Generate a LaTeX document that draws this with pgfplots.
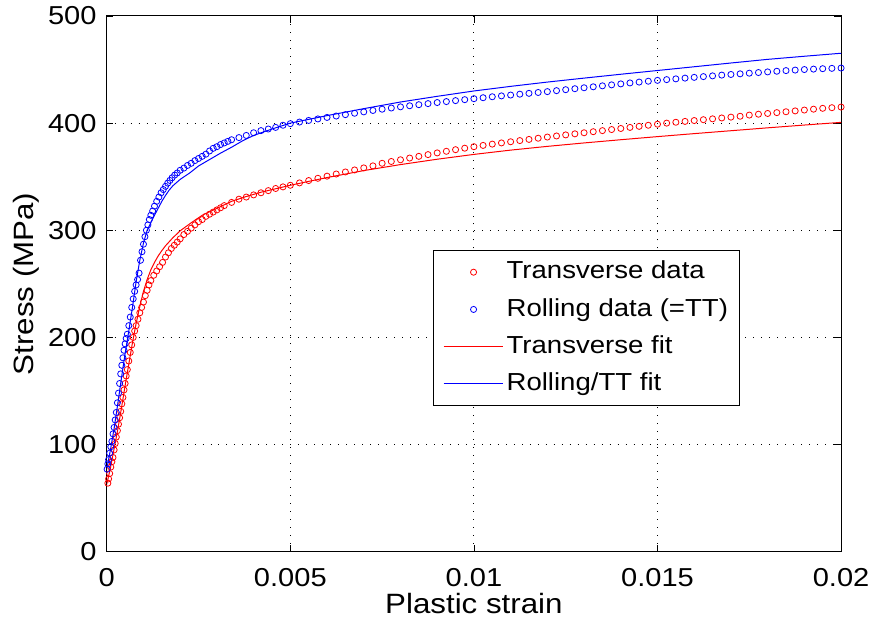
\documentclass[border=0pt]{standalone}
\usepackage{fontspec}
\setmainfont{Liberation Sans}[FakeStretch=1.12]
\usepackage{pgfplots}
\pgfplotsset{compat=1.18}
\usetikzlibrary{calc}

% measured data, transverse direction
\pgfplotstableread{
x y
0.00003 64
0.00005 68
0.00008 73
0.00011 79
0.00014 84
0.00017 88
0.0002 95
0.00023 101
0.00026 107
0.00029 113
0.00032 119
0.00035 125
0.00038 131
0.00041 138
0.00044 144
0.00047 151
0.0005 157
0.00053 164
0.00056 170
0.0006 178
0.00064 186
0.00068 193
0.00072 200
0.00076 206
0.0008 211
0.00085 217
0.0009 223
0.00095 228
0.001 233
0.00105 239
0.0011 244
0.00115 249
0.0012 253
0.00128 258
0.00136 262
0.00144 266
0.00152 270
0.0016 275
0.00168 279
0.00176 283
0.00184 286
0.00192 289
0.002 292
0.0021 296
0.0022 299
0.0023 302
0.0024 305
0.0025 308
0.0026 310
0.0027 313
0.0028 315
0.0029 317
0.003 319
0.0031 321
0.0032 323
0.0034 326
0.0036 329
0.0038 331
0.004 333
0.0042 335
0.0044 337
0.0046 339
0.0048 340.5
0.005 342
0.00525 344.2
0.0055 346.4
0.00575 348.5
0.006 350.5
0.00625 352.5
0.0065 354.4
0.00675 356.3
0.007 358.2
0.00725 360.1
0.0075 362.5
0.00775 364.2
0.008 365.8
0.00825 367.4
0.0085 369
0.00875 370.6
0.009 372.2
0.00925 373.7
0.0095 375.2
0.00975 376.6
0.01 378
0.01025 379.2
0.0105 380.4
0.01075 381.5
0.011 382.6
0.01125 383.7
0.0115 384.8
0.01175 385.9
0.012 387
0.01225 388
0.0125 389
0.01275 390
0.013 391
0.01325 392
0.0135 393
0.01375 394
0.014 395
0.01425 396
0.0145 397
0.01475 398
0.015 399
0.01525 400
0.0155 400.8
0.01575 401.6
0.016 402.4
0.01625 403.2
0.0165 404
0.01675 404.8
0.017 405.6
0.01725 406.4
0.0175 407.5
0.01775 408.3
0.018 409
0.01825 409.8
0.0185 410.6
0.01875 411.4
0.019 412.2
0.01925 413
0.0195 413.8
0.01975 414.4
0.02 415
}\transdata

% measured data, rolling direction (= TT)
\pgfplotstableread{
x y
0.00001 77
0.00003 82
0.00005 86
0.00008 92
0.00011 98
0.00014 103
0.00017 110
0.0002 116
0.00023 123
0.00026 130
0.00029 139
0.00032 148
0.00035 157
0.00038 166
0.00041 174
0.00044 181
0.00047 188
0.0005 194
0.00053 199
0.00056 203
0.0006 211
0.00064 219
0.00068 228
0.00072 236
0.00076 243
0.0008 249
0.00084 254
0.00088 260
0.00092 272
0.00096 280
0.001 287
0.00104 294
0.00108 300
0.00112 305
0.00116 310
0.0012 314
0.00125 318
0.0013 322.5
0.00136 327
0.00142 331
0.00148 335
0.00154 338
0.0016 341
0.00166 344
0.00172 346.5
0.00178 349
0.00185 351.5
0.00192 353.5
0.002 356
0.0021 358
0.0022 360.5
0.0023 362.5
0.0024 365
0.0025 367
0.0026 369
0.0027 371
0.0028 374
0.0029 376.5
0.003 378
0.0031 380
0.0032 381.5
0.0033 383
0.0034 384.5
0.0036 386.5
0.0038 388.5
0.004 391
0.0042 393
0.0044 394.5
0.0046 396
0.0048 398
0.005 399.5
0.00525 401
0.0055 402.5
0.00575 403.9
0.006 405.3
0.00625 406.6
0.0065 407.9
0.00675 409.2
0.007 410.5
0.00725 411.8
0.0075 413
0.00775 414.1
0.008 415.2
0.00825 416.2
0.0085 417.2
0.00875 418.2
0.009 419.2
0.00925 420.1
0.0095 421
0.00975 421.9
0.01 422.8
0.01025 423.7
0.0105 424.6
0.01075 425.4
0.011 426.2
0.01125 427
0.0115 427.8
0.01175 428.6
0.012 429.4
0.01225 430.3
0.0125 431.2
0.01275 432.1
0.013 433
0.01325 433.9
0.0135 434.8
0.01375 435.7
0.014 436.6
0.01425 437.5
0.0145 438.3
0.01475 439.1
0.015 439.9
0.01525 440.6
0.0155 441.3
0.01575 442
0.016 442.7
0.01625 443.4
0.0165 444.1
0.01675 444.8
0.017 445.4
0.01725 446
0.0175 446.6
0.01775 447.2
0.018 447.8
0.01825 448.4
0.0185 449
0.01875 449.5
0.019 450
0.01925 450.4
0.0195 450.8
0.01975 451.1
0.02 451.4
}\rolldata

% fitted curves
\pgfplotstableread{
x y
0 63
0.0001 78
0.0002 96
0.0003 114
0.0004 134
0.0005 155
0.0006 175
0.0007 195
0.0008 213
0.0009 229
0.001 243
0.0011 254
0.0012 263
0.0013 270
0.0014 276
0.0015 281
0.0016 285.5
0.0018 293
0.002 299.5
0.0023 307
0.0026 314
0.003 320.5
0.0034 327
0.0038 331.5
0.0042 335.5
0.005 342
0.006 349.2
0.007 355.7
0.008 361.3
0.009 366.3
0.01 370.8
0.011 374.8
0.012 378.3
0.013 381.5
0.014 384.5
0.015 387.4
0.016 390.2
0.017 392.9
0.018 395.6
0.019 398.2
0.02 400.7
}\transfit

\pgfplotstableread{
x y
0 77
0.0001 95
0.0002 115
0.0003 138
0.0004 162
0.0005 185
0.0006 206
0.0007 228
0.0008 252
0.0009 272
0.001 288
0.0011 300
0.0012 307
0.0013 314
0.0014 320.5
0.0015 327
0.0016 332.5
0.0017 337.5
0.0018 341.5
0.002 347.5
0.00226 353.5
0.0025 360
0.0028 366
0.0031 372
0.0034 377.5
0.0037 383.5
0.004 388.5
0.0045 394.5
0.005 400
0.006 407
0.007 413.5
0.008 419.7
0.009 425
0.01 430
0.011 434.3
0.012 438.3
0.013 442
0.014 445.6
0.015 449.1
0.016 452.6
0.017 456.1
0.018 459.5
0.019 462.4
0.02 465.2
}\rollfit

\begin{document}
\begin{tikzpicture}
\begin{axis}[
    scale only axis,
    width=552bp, height=402.75bp,
    xmin=0, xmax=0.02, ymin=0, ymax=500,
    xtick={0,0.005,0.01,0.015,0.02},
    xticklabels={0,0.005,0.01,0.015,0.02},
    scaled x ticks=false,
    ytick={0,100,200,300,400,500},
    yticklabels={0,100,200,300,400,500},
    tick label style={font=\fontsize{19.5bp}{22bp}\selectfont, inner sep=1bp},
    xticklabel style={yshift=-11bp},
    yticklabel style={xshift=-6.5bp},
    tick align=inside,
    major tick length=5bp,
    tick style={black, line width=0.6bp},
    axis line style={line width=0.75bp},
    grid=major,
    major grid style={black, line width=0.75bp, dash pattern=on 0.75bp off 5.25bp},
    xlabel={Plastic strain},
    ylabel={Stress (MPa)},
    label style={font=\fontsize{21bp}{24bp}\selectfont, inner sep=1bp},
    xlabel style={at={(axis description cs:0.5,-0.097)}, anchor=center},
    ylabel style={at={(axis description cs:-0.11,0.5)}, anchor=center},
    legend image code/.code={\draw[mark repeat=2,mark phase=2,#1] plot coordinates {(0bp,0bp) (22.5bp,0bp) (45bp,0bp)};},
    legend style={at={(axis description cs:0.863,0.5624)}, anchor=north east,
        draw=black, line width=0.75bp, fill=white,
        font=\fontsize{18.5bp}{22bp}\selectfont,
        inner xsep=7bp, inner ysep=5bp, row sep=6bp,
        nodes={inner sep=2bp, text height=14bp, text depth=4bp, anchor=west}},
    legend cell align=left,
]
\addplot[only marks, red, mark=o, mark size=2.3bp, line width=0.6bp] table[x=x,y=y] {\transdata};
\addplot[only marks, blue, mark=o, mark size=2.3bp, line width=0.6bp] table[x=x,y=y] {\rolldata};
\addplot[red, line width=0.75bp, no marks] table[x=x,y=y] {\transfit};
\addplot[blue, line width=0.75bp, no marks] table[x=x,y=y] {\rollfit};
\legend{Transverse data, Rolling data (=TT), Transverse fit, Rolling/TT fit}
\end{axis}
\path (current axis.south west) ++(-80.25bp,-52.5bp) coordinate (bbsw);
\path (current axis.north east) ++(22.5bp,12bp) coordinate (bbne);
\path[use as bounding box] (bbsw) rectangle (bbne);
\end{tikzpicture}
\end{document}
